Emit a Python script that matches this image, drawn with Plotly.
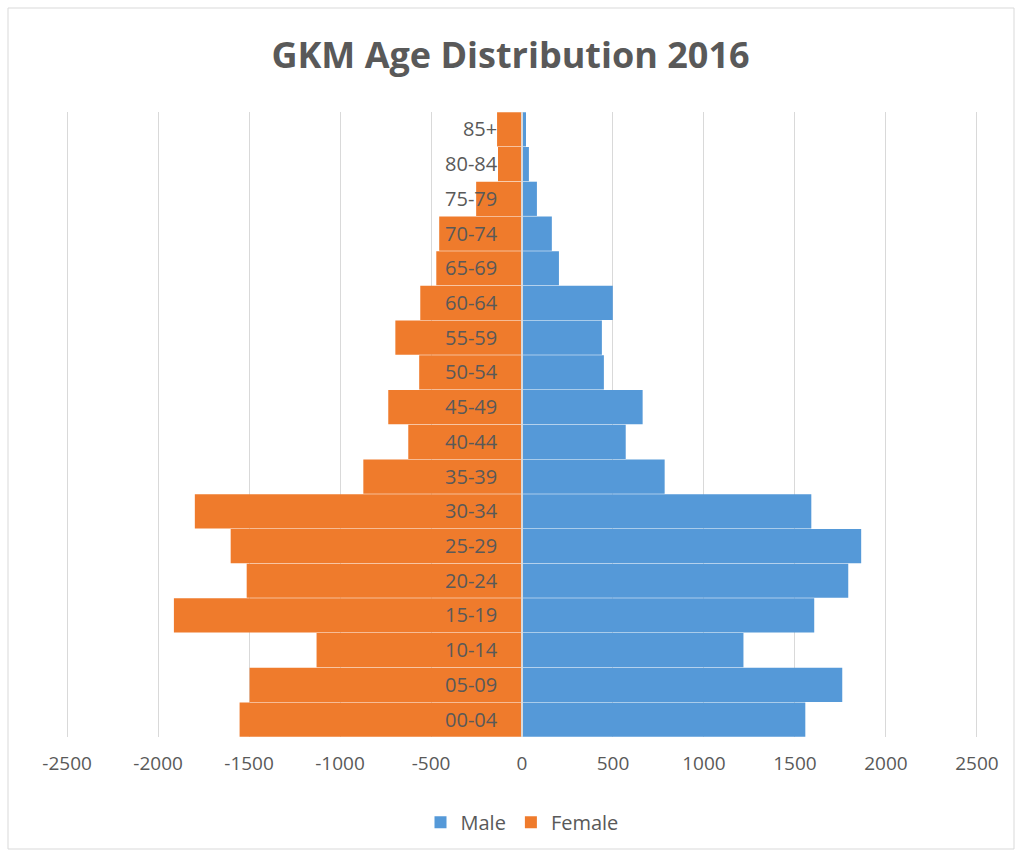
import plotly.graph_objects as go

# age groups, bottom to top
age_groups = ["00-04", "05-09", "10-14", "15-19", "20-24", "25-29", "30-34", "35-39",
              "40-44", "45-49", "50-54", "55-59", "60-64", "65-69", "70-74", "75-79",
              "80-84", "85+"]

male = [1557, 1760, 1217, 1606, 1793, 1864, 1590, 784, 570, 663, 450, 439, 499,
        203, 164, 82, 38, 22]
female = [1552, 1497, 1129, 1913, 1513, 1601, 1798, 872, 625, 735, 565, 696, 559,
          471, 455, 252, 132, 137]

x_ticks = [-2500, -2000, -1500, -1000, -500, 0, 500, 1000, 1500, 2000, 2500]

grey = "#595959"
font_family = "Open Sans"

fig = go.Figure()
fig.add_trace(go.Bar(
    y=age_groups, x=male, name="Male", orientation="h",
    marker=dict(color="#5599D8", line=dict(width=0)),
))
fig.add_trace(go.Bar(
    y=age_groups, x=[-v for v in female], name="Female", orientation="h",
    marker=dict(color="#EF7B2C", line=dict(width=0)),
    customdata=female, hovertemplate="%{y}: %{customdata}<extra>Female</extra>",
))

fig.update_layout(
    width=1021, height=855,
    barmode="overlay", bargap=0.015,
    plot_bgcolor="white", paper_bgcolor="white",
    margin=dict(l=66, r=43, t=112, b=118),
    title=dict(text="<b>GKM Age Distribution 2016</b>", x=0.5, xanchor="center",
               y=0.935, yanchor="middle",
               font=dict(family=font_family, size=36, color=grey)),
    font=dict(family=font_family, color=grey),
    legend=dict(orientation="h", x=0.5, xanchor="center", y=-0.105, yanchor="top",
                font=dict(size=20, color=grey), traceorder="normal"),
    xaxis=dict(range=[-2506, 2506], tickvals=x_ticks, ticktext=[str(v) for v in x_ticks],
               showgrid=True, gridcolor="#D9D9D9", gridwidth=1.3,
               zeroline=False, showline=False,
               tickfont=dict(size=19, color=grey), ticks="", ticklabelstandoff=13),
    yaxis=dict(type="category", categoryorder="array", categoryarray=age_groups,
               range=[-0.5, len(age_groups) - 0.5],
               anchor="free", position=0.5, side="left",
               showgrid=False, showline=True, linecolor="#D9D9D9", linewidth=1.5,
               ticks="", ticklabelstandoff=20,
               tickfont=dict(size=20, color=grey)),
    shapes=[dict(type="rect", xref="paper", yref="paper",
                 x0=-58 / 912, x1=1 + 36 / 912, y0=-112 / 625, y1=1 + 104 / 625,
                 line=dict(color="#D9D9D9", width=1), layer="below")],
)

fig.write_html("out.html", config={"displayModeBar": False},
               post_script="document.body.style.margin='0';")
